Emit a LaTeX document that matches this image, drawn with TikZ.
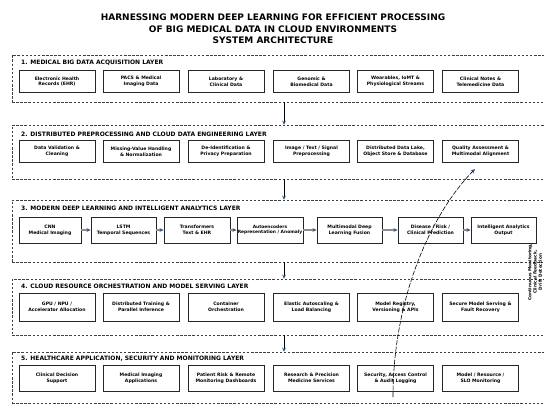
\documentclass[tikz,border=0pt]{standalone}
\usepackage{fontspec}
\setmainfont{DejaVu Sans}
\usetikzlibrary{arrows.meta}
\definecolor{arrowblue}{RGB}{40,85,135}
\tikzset{
  layer/.style={draw=black!75, dash pattern=on 2.5pt off 1.6pt, line width=0.6pt, minimum width=536pt, inner sep=0pt},
  box/.style={draw=black!85, line width=0.9pt, fill=white, minimum width=76pt, minimum height=22pt, inner sep=0pt, align=center, font=\bfseries\fontsize{4.6}{5.6}\selectfont},
  mbox/.style={box, minimum height=26pt},
  ltitle/.style={anchor=west, inner sep=0pt, font=\bfseries\fontsize{6}{7}\selectfont},
  flow/.style={draw=black!45, line width=1.1pt, -{Stealth[length=4pt,width=3.6pt,color=arrowblue]}},
  downarrow/.style={draw=black, line width=0.6pt, -{Stealth[length=4pt,width=3.6pt,color=arrowblue]}},
  fbarrow/.style={draw=black, line width=0.6pt, dash pattern=on 5pt off 1.5pt, -{Stealth[length=4.5pt,width=4pt,color=arrowblue]}}
}
\begin{document}
\begin{tikzpicture}[x=1pt,y=-1pt]
\useasboundingbox (0,0) rectangle (544,407);
\clip (0,0) rectangle (544,407);
\fill[white] (0,0) rectangle (544,407);

% title
\node[align=center, font=\bfseries\fontsize{9}{11.5}\selectfont] (title) at (273,29)
  {HARNESSING MODERN DEEP LEARNING FOR EFFICIENT PROCESSING\\OF BIG MEDICAL DATA IN CLOUD ENVIRONMENTS\\SYSTEM ARCHITECTURE};

% layers
\node[layer, minimum height=47pt] (L1) at (280,78.5) {};
\node[layer, minimum height=54pt] (L2) at (280,152) {};
\node[layer, minimum height=62pt] (L3) at (280,231) {};
\node[layer, minimum height=56pt] (L4) at (280,307) {};
\node[layer, minimum height=51pt] (L5) at (280,377.5) {};

\node[ltitle] (t1) at (21,63) {1. MEDICAL BIG DATA ACQUISITION LAYER};
\node[ltitle] (t2) at (21,134) {2. DISTRIBUTED PREPROCESSING AND CLOUD DATA ENGINEERING LAYER};
\node[ltitle] (t3) at (21,208) {3. MODERN DEEP LEARNING AND INTELLIGENT ANALYTICS LAYER};
\node[ltitle] (t4) at (21,286) {4. CLOUD RESOURCE ORCHESTRATION AND MODEL SERVING LAYER};
\node[ltitle] (t5) at (21,359) {5. HEALTHCARE APPLICATION, SECURITY AND MONITORING LAYER};

% layer 1
\node[box] (a1) at (57,81.5) {Electronic Health\\Records (EHR)};
\node[box] (a2) at (141,81.5) {PACS \& Medical\\Imaging Data};
\node[box] (a3) at (226,81.5) {Laboratory \&\\Clinical Data};
\node[box] (a4) at (311.5,81.5) {Genomic \&\\Biomedical Data};
\node[box] (a5) at (395.5,81.5) {Wearables, IoMT \&\\Physiological Streams};
\node[box] (a6) at (480.5,81.5) {Clinical Notes \&\\Telemedicine Data};

% layer 2
\node[box] (b1) at (57,151.5) {Data Validation \&\\Cleaning};
\node[box] (b2) at (141,151.5) {Missing-Value Handling\\\& Normalization};
\node[box] (b3) at (226,151.5) {De-Identification \&\\Privacy Preparation};
\node[box] (b4) at (311.5,151.5) {Image / Text / Signal\\Preprocessing};
\node[box] (b5) at (395.5,151.5) {Distributed Data Lake,\\Object Store \& Database};
\node[box] (b6) at (480.5,151.5) {Quality Assessment \&\\Multimodal Alignment};

% layer 3
\node[mbox, minimum width=62pt] (c1) at (50,230) {CNN\\Medical Imaging};
\node[mbox, minimum width=65pt] (c2) at (123.5,230) {LSTM\\Temporal Sequences};
\node[mbox, minimum width=66pt] (c3) at (197,230) {Transformers\\Text \& EHR};
\node[mbox, minimum width=66pt, font=\bfseries\fontsize{4.4}{5.6}\selectfont] (c4) at (270,230) {Autoencoders\\Representation / Anomaly};
\node[mbox, minimum width=65pt] (c5) at (349.5,230) {Multimodal Deep\\Learning Fusion};
\node[mbox, minimum width=65pt] (c6) at (430.5,230) {Disease / Risk /\\Clinical Prediction};
\node[mbox, minimum width=65pt] (c7) at (503.5,230) {Intelligent Analytics\\Output};
\draw[flow] (c1) -- (c2);
\draw[flow] (c2) -- (c3);
\draw[flow] (c3) -- (c4);
\draw[flow] (c4) -- (c5);
\draw[flow] (c5) -- (c6);
\draw[flow] (c6) -- (c7);

% layer 4
\node[box, minimum height=28pt] (d1) at (57,307) {GPU / NPU /\\Accelerator Allocation};
\node[box, minimum height=28pt] (d2) at (141,307) {Distributed Training \&\\Parallel Inference};
\node[box, minimum height=28pt] (d3) at (226,307) {Container\\Orchestration};
\node[box, minimum height=28pt] (d4) at (311.5,307) {Elastic Autoscaling \&\\Load Balancing};
\node[box, minimum height=28pt] (d5) at (395.5,307) {Model Registry,\\Versioning \& APIs};
\node[box, minimum height=28pt] (d6) at (480.5,307) {Secure Model Serving \&\\Fault Recovery};

% layer 5
\node[mbox] (e1) at (57,378) {Clinical Decision\\Support};
\node[mbox] (e2) at (141,378) {Medical Imaging\\Applications};
\node[mbox] (e3) at (226,378) {Patient Risk \& Remote\\Monitoring Dashboards};
\node[mbox] (e4) at (311.5,378) {Research \& Precision\\Medicine Services};
\node[mbox] (e5) at (395.5,378) {Security, Access Control\\\& Audit Logging};
\node[mbox] (e6) at (480.5,378) {Model / Resource /\\SLO Monitoring};

% inter-layer arrows
\coordinate (ax) at (284,0);
\draw[downarrow] (ax |- L1.south) -- (ax |- L2.north);
\draw[downarrow] (ax |- L2.south) -- (ax |- L3.north);
\draw[downarrow] (ax |- L3.south) -- (ax |- L4.north);
\draw[downarrow] (ax |- L4.south) -- (ax |- L5.north);

% feedback
\coordinate (fbs) at (393,397);
\coordinate (fbe) at (475,169);
\draw[fbarrow] (fbs) .. controls (393,300) and (430,215) .. (fbe);
\node[rotate=90, align=center, inner sep=0pt, font=\bfseries\fontsize{4.3}{5.2}\selectfont] (fbl) at (535,272)
  {Continuous Monitoring,\\Clinical Feedback,\\Drift Detection};
\end{tikzpicture}
\end{document}
